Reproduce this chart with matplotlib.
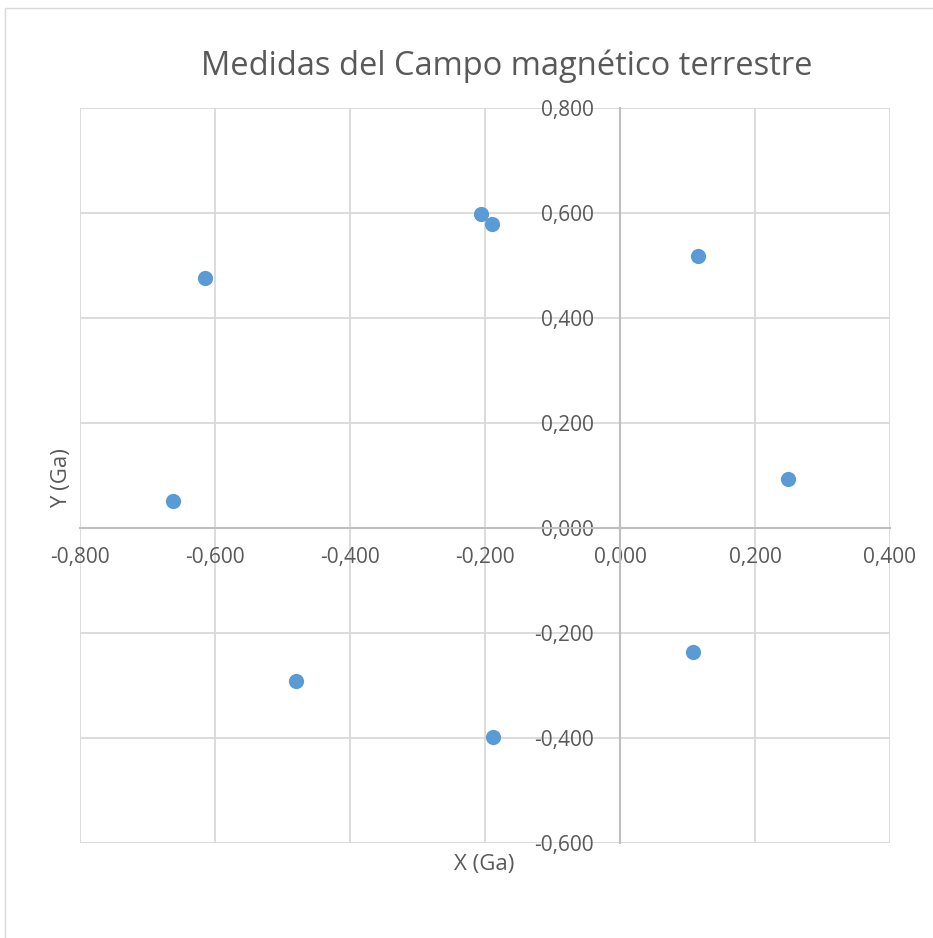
import matplotlib
matplotlib.use("Agg")
import matplotlib.pyplot as plt
from matplotlib.patches import Rectangle
from matplotlib.ticker import FuncFormatter, MultipleLocator

# values
x_vals = [-0.662, -0.615, -0.480, -0.206, -0.190, -0.188, 0.116, 0.108, 0.249]
y_vals = [0.051, 0.476, -0.291, 0.598, 0.579, -0.398, 0.518, -0.236, 0.093]

title = "Medidas del Campo magnético terrestre"
x_label = "X (Ga)"
y_label = "Y (Ga)"

text_col = "#595959"
grid_col = "#d9d9d9"
axis_col = "#bfbfbf"
dot_col = "#5b9bd5"

plt.rcParams['font.family'] = ['Open Sans', 'DejaVu Sans']

W, H = 933, 938
fig = plt.figure(figsize=(W / 100, H / 100), dpi=100)

# chart border
fig.patches.append(Rectangle((5 / W, -0.1), 1.2, 1 - 8 / H + 0.1,
                             transform=fig.transFigure, fill=False,
                             edgecolor=grid_col, linewidth=1))

ax = fig.add_axes([80 / W, (H - 843) / H, (890 - 80) / W, (843 - 108) / H])
ax.set_xlim(-0.8, 0.4)
ax.set_ylim(-0.6, 0.8)
ax.xaxis.set_major_locator(MultipleLocator(0.2))
ax.yaxis.set_major_locator(MultipleLocator(0.2))
fmt = FuncFormatter(lambda v, p: f"{v:.3f}".replace(".", ",").replace("-0,000", "0,000"))
ax.xaxis.set_major_formatter(fmt)
ax.yaxis.set_major_formatter(fmt)

ax.grid(True, color=grid_col, linewidth=1.3, zorder=0)
ax.set_axisbelow(True)

for s in ("top", "right"):
    ax.spines[s].set_visible(False)
ax.spines["left"].set_position(("data", 0))
ax.spines["bottom"].set_position(("data", 0))
for s in ("left", "bottom"):
    ax.spines[s].set_color(axis_col)
    ax.spines[s].set_linewidth(1.5)

ax.tick_params(axis="both", length=0, labelsize=15, labelcolor=text_col)
ax.tick_params(axis="x", pad=14)
ax.tick_params(axis="y", pad=19)

ax.scatter(x_vals, y_vals, s=120, color=dot_col, zorder=3, linewidths=0)

fig.text(507 / W, 1 - 66 / H, title, ha="center", va="center",
         fontsize=23.5, color=text_col)
fig.text(484 / W, 1 - 864 / H, x_label, ha="center", va="center",
         fontsize=16, color=text_col)
fig.text(62 / W, 1 - 478 / H, y_label, ha="center", va="center",
         fontsize=16, color=text_col, rotation=90)

fig.savefig("out.png", dpi=100)
